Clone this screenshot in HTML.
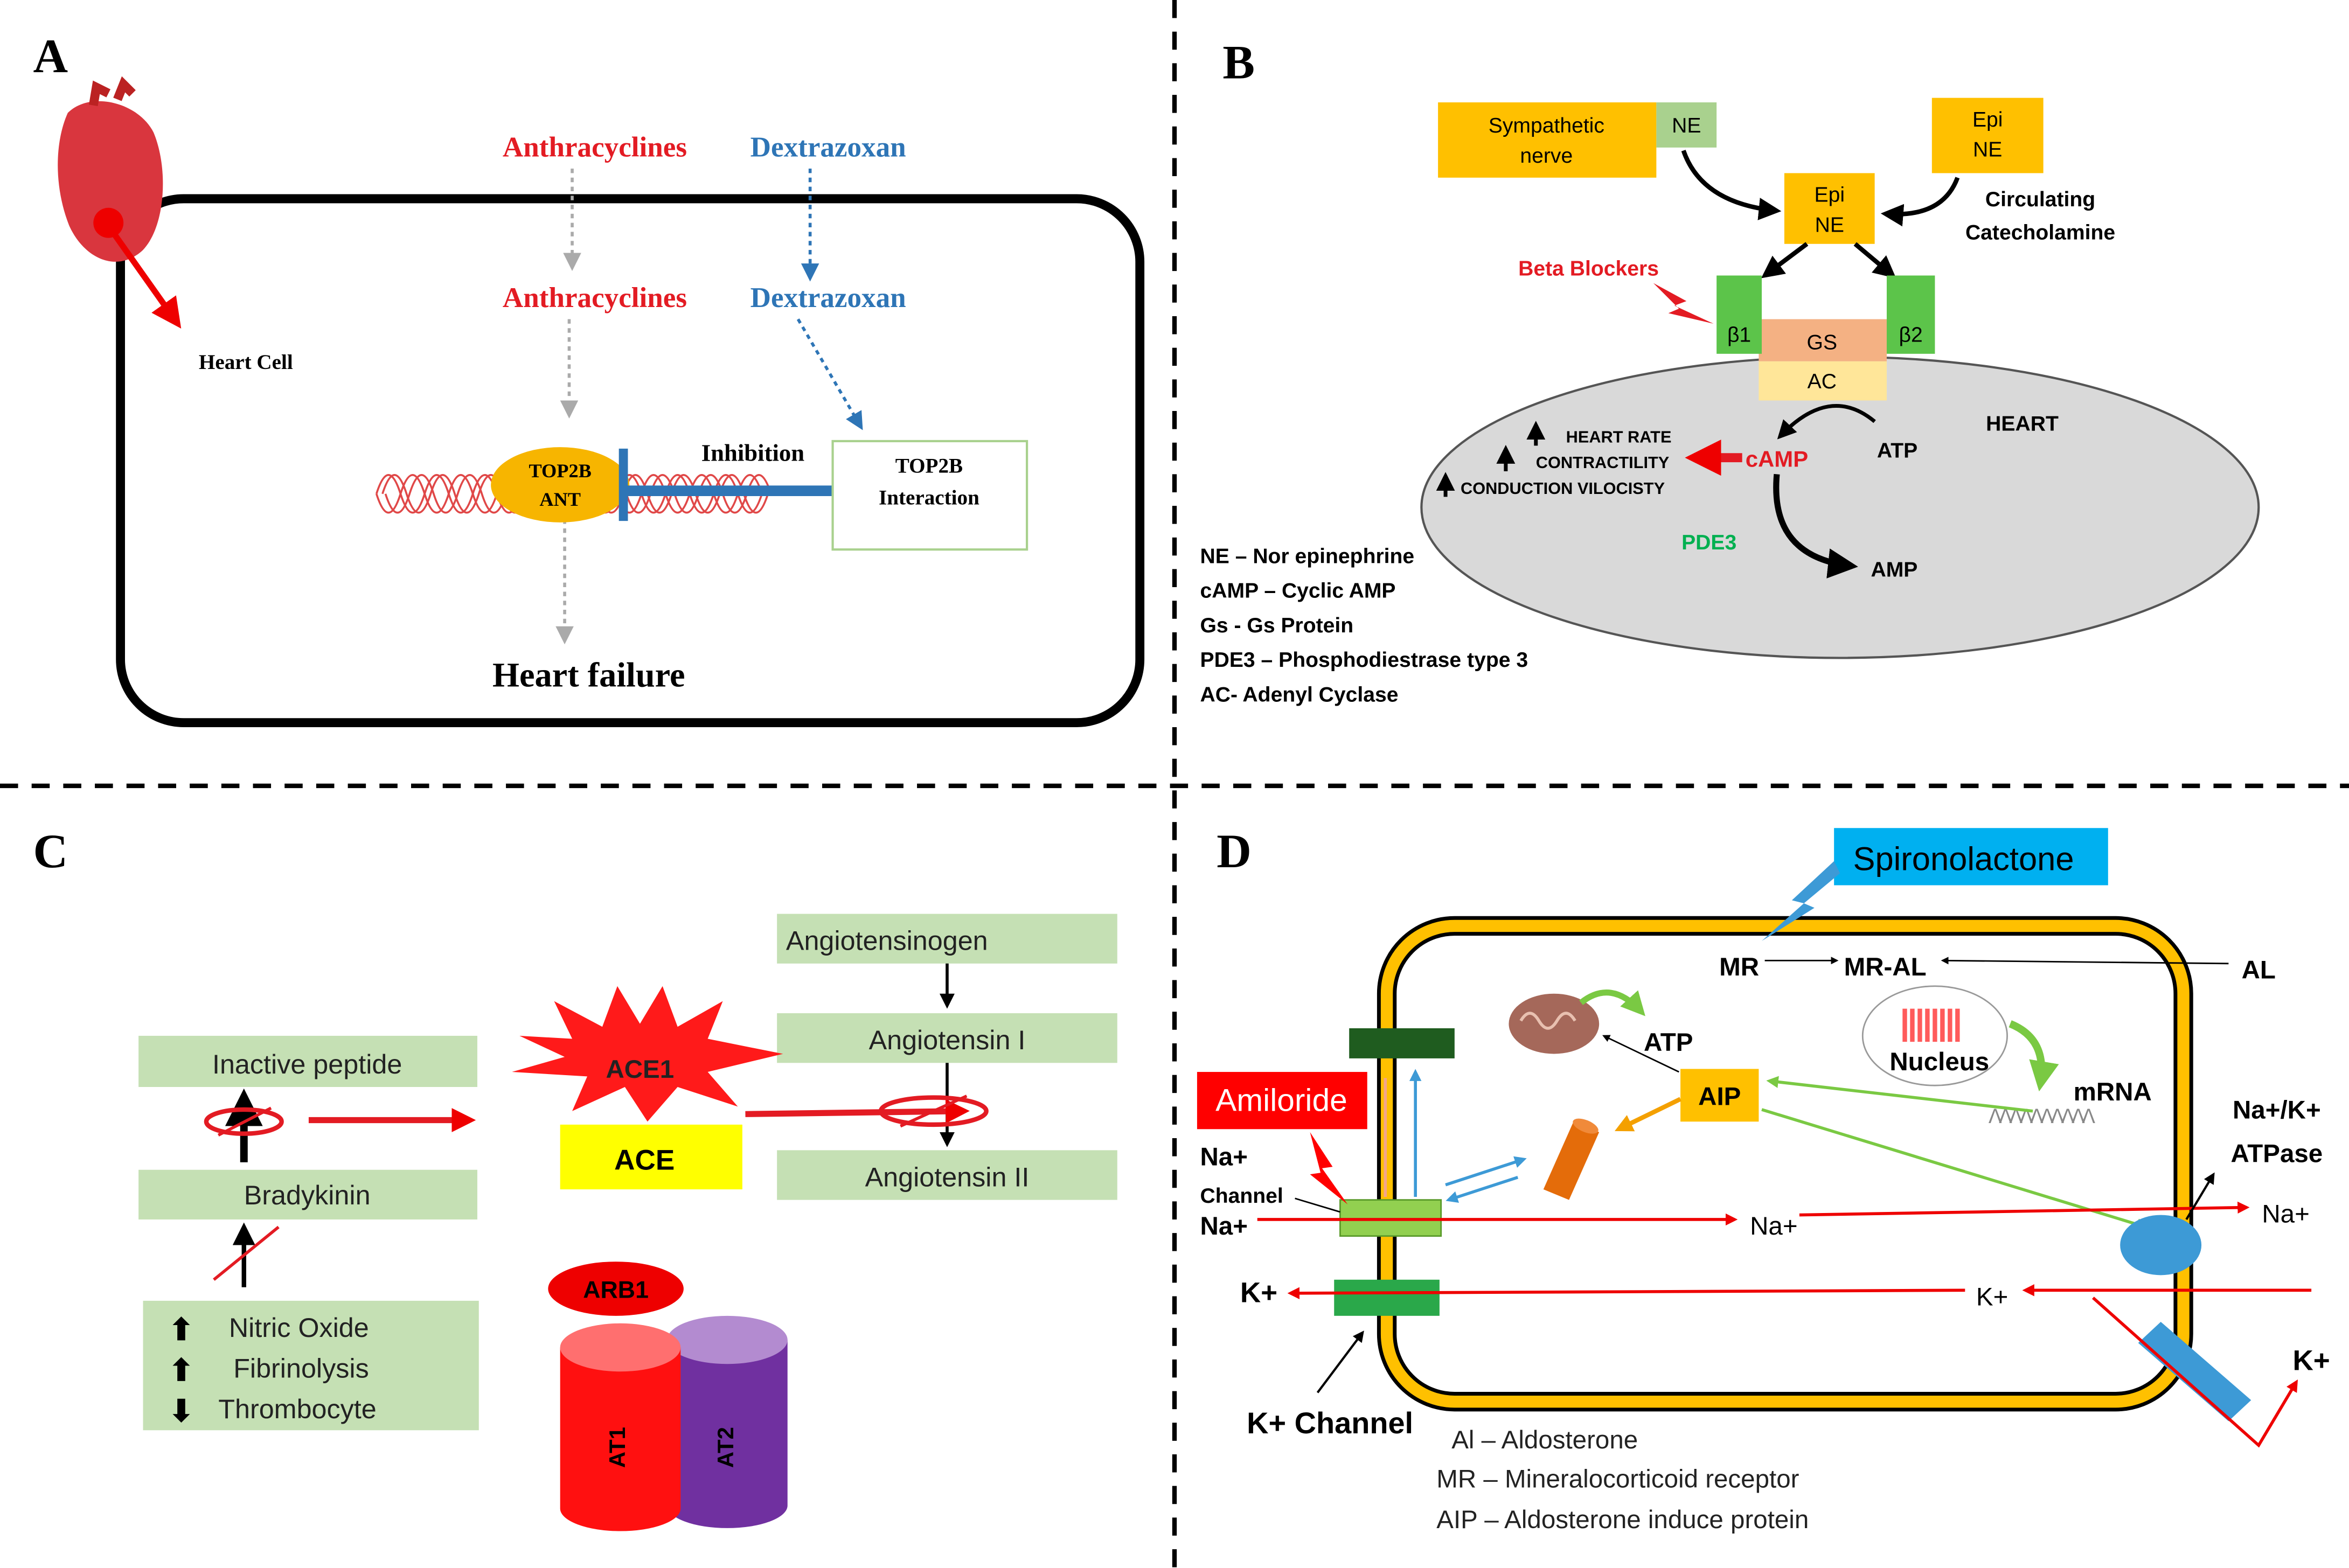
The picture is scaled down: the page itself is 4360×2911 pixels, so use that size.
<!DOCTYPE html>
<html><head><meta charset="utf-8"><style>html,body{margin:0;padding:0;background:#fff}svg{display:block}</style></head>
<body>
<svg width="4360" height="2911" viewBox="0 0 1560 1041.5" preserveAspectRatio="none" xmlns="http://www.w3.org/2000/svg" font-family="Liberation Sans, sans-serif">
<defs>
<marker id="ag" markerWidth="6" markerHeight="6" refX="5" refY="3" orient="auto"><path d="M0,0L6,3L0,6z" fill="#aaa"/></marker>
<marker id="ab" markerWidth="6" markerHeight="6" refX="5" refY="3" orient="auto"><path d="M0,0L6,3L0,6z" fill="#2e75b6"/></marker>
<marker id="ak" markerWidth="5" markerHeight="5" refX="4" refY="2.5" orient="auto"><path d="M0,0L5,2.5L0,5z" fill="#000"/></marker>
<marker id="ar" markerWidth="5" markerHeight="5" refX="4" refY="2.5" orient="auto"><path d="M0,0L5,2.5L0,5z" fill="#e00"/></marker>
<marker id="ar2" markerWidth="4" markerHeight="4" refX="3" refY="2" orient="auto"><path d="M0,0L4,2L0,4z" fill="#e00"/></marker>
<marker id="agr" markerWidth="4" markerHeight="4" refX="3" refY="2" orient="auto"><path d="M0,0L4,2L0,4z" fill="#7ac943"/></marker>
<marker id="abl" markerWidth="4" markerHeight="4" refX="3" refY="2" orient="auto"><path d="M0,0L4,2L0,4z" fill="#3d9ad6"/></marker>
<marker id="aor" markerWidth="4" markerHeight="4" refX="3" refY="2" orient="auto"><path d="M0,0L4,2L0,4z" fill="#f4a000"/></marker>
</defs>
<line x1="780" y1="0" x2="780" y2="1041" stroke="#000" stroke-width="3" stroke-dasharray="12,9"/>
<line x1="0" y1="522" x2="1560" y2="522" stroke="#000" stroke-width="3" stroke-dasharray="12,9"/>

<!-- PANEL A -->
<text x="22" y="48" font-family="Liberation Serif, serif" font-weight="bold" font-size="32">A</text>
<rect x="80" y="132" width="677" height="348" rx="42" fill="none" stroke="#000" stroke-width="6"/>
<path d="M45,75 C36,95 36,125 46,150 C56,172 78,182 95,166 C110,150 112,112 102,88 C92,68 60,60 45,75z" fill="#d9363e"/>
<path d="M62,70 l2,-12 l8,4 M78,66 l4,-10 l6,6" stroke="#b22" stroke-width="6" fill="none"/>
<circle cx="72" cy="148" r="10" fill="#e00"/>
<line x1="72" y1="150" x2="118" y2="215" stroke="#e00" stroke-width="4" marker-end="url(#ar)"/>
<text x="132" y="245" font-family="Liberation Serif, serif" font-weight="bold" font-size="14">Heart Cell</text>
<g font-family="Liberation Serif, serif" font-weight="bold" font-size="19" text-anchor="middle">
<text x="395" y="104" fill="#e31b23">Anthracyclines</text>
<text x="550" y="104" fill="#2e75b6">Dextrazoxan</text>
<text x="395" y="204" fill="#e31b23">Anthracyclines</text>
<text x="550" y="204" fill="#2e75b6">Dextrazoxan</text>
</g>
<g stroke-dasharray="3,3" stroke-width="2" fill="none">
<line x1="380" y1="112" x2="380" y2="178" stroke="#aaa" marker-end="url(#ag)"/>
<line x1="378" y1="212" x2="378" y2="276" stroke="#aaa" marker-end="url(#ag)"/>
<line x1="538" y1="112" x2="538" y2="185" stroke="#2e75b6" marker-end="url(#ab)"/>
<line x1="530" y1="212" x2="572" y2="284" stroke="#2e75b6" marker-end="url(#ab)"/>
<line x1="375" y1="345" x2="375" y2="426" stroke="#aaa" marker-end="url(#ag)"/>
</g>
<g fill="none" stroke="#e04848" stroke-width="1.3">
<path d="M250,328 q8,-25 16,0 t16,0 t16,0 t16,0 t16,0 t16,0 t16,0 t16,0 t16,0 t16,0 t16,0 t16,0 t16,0 t16,0 t16,0 t16,0"/>
<path d="M254,328 q8,-25 16,0 t16,0 t16,0 t16,0 t16,0 t16,0 t16,0 t16,0 t16,0 t16,0 t16,0 t16,0 t16,0 t16,0 t16,0 t16,0"/>
<path d="M250,328 q8,25 16,0 t16,0 t16,0 t16,0 t16,0 t16,0 t16,0 t16,0 t16,0 t16,0 t16,0 t16,0 t16,0 t16,0 t16,0 t16,0"/>
<path d="M256,328 q8,25 16,0 t16,0 t16,0 t16,0 t16,0 t16,0 t16,0 t16,0 t16,0 t16,0 t16,0 t16,0 t16,0 t16,0 t16,0 t16,0"/>
</g>
<ellipse cx="372" cy="322" rx="46" ry="25" fill="#f7b500"/>
<text x="372" y="317" text-anchor="middle" font-family="Liberation Serif, serif" font-weight="bold" font-size="13">TOP2B</text>
<text x="372" y="336" text-anchor="middle" font-family="Liberation Serif, serif" font-weight="bold" font-size="13">ANT</text>
<line x1="414" y1="326" x2="553" y2="326" stroke="#2e75b6" stroke-width="7"/>
<line x1="414" y1="298" x2="414" y2="346" stroke="#2e75b6" stroke-width="6"/>
<text x="500" y="306" text-anchor="middle" font-family="Liberation Serif, serif" font-weight="bold" font-size="16">Inhibition</text>
<rect x="553" y="293" width="129" height="72" fill="#fff" stroke="#a9d18e" stroke-width="1.5"/>
<text x="617" y="314" text-anchor="middle" font-family="Liberation Serif, serif" font-weight="bold" font-size="14">TOP2B</text>
<text x="617" y="335" text-anchor="middle" font-family="Liberation Serif, serif" font-weight="bold" font-size="14">Interaction</text>
<text x="391" y="456" text-anchor="middle" font-family="Liberation Serif, serif" font-weight="bold" font-size="23">Heart failure</text>

<!-- PANEL B -->
<text x="812" y="52" font-family="Liberation Serif, serif" font-weight="bold" font-size="32">B</text>
<ellipse cx="1222" cy="337" rx="278" ry="100" fill="#d9d9d9" stroke="#555" stroke-width="1.5"/>
<rect x="955" y="68" width="145" height="50" fill="#ffc000"/>
<text x="1027" y="88" text-anchor="middle" font-size="14">Sympathetic</text>
<text x="1027" y="108" text-anchor="middle" font-size="14">nerve</text>
<rect x="1100" y="68" width="40" height="30" fill="#a9d18e"/>
<text x="1120" y="88" text-anchor="middle" font-size="14">NE</text>
<rect x="1283" y="65" width="74" height="50" fill="#ffc000"/>
<text x="1320" y="84" text-anchor="middle" font-size="14">Epi</text>
<text x="1320" y="104" text-anchor="middle" font-size="14">NE</text>
<rect x="1185" y="115" width="60" height="47" fill="#ffc000"/>
<text x="1215" y="134" text-anchor="middle" font-size="14">Epi</text>
<text x="1215" y="154" text-anchor="middle" font-size="14">NE</text>
<g fill="none" stroke="#000" stroke-width="3">
<path d="M1118,100 Q1130,135 1180,140" marker-end="url(#ak)"/>
<path d="M1300,118 Q1290,145 1252,142" marker-end="url(#ak)"/>
<path d="M1200,162 L1172,183" marker-end="url(#ak)"/>
<path d="M1232,162 L1257,183" marker-end="url(#ak)"/>
</g>
<text x="1355" y="137" text-anchor="middle" font-size="14" font-weight="bold">Circulating</text>
<text x="1355" y="159" text-anchor="middle" font-size="14" font-weight="bold">Catecholamine</text>
<rect x="1168" y="212" width="85" height="28" fill="#f4b183"/>
<rect x="1168" y="240" width="85" height="26" fill="#ffe699"/>
<text x="1210" y="232" text-anchor="middle" font-size="14">GS</text>
<text x="1210" y="258" text-anchor="middle" font-size="14">AC</text>
<rect x="1140" y="183" width="30" height="52" fill="#5cc44a"/>
<rect x="1253" y="183" width="32" height="52" fill="#5cc44a"/>
<text x="1155" y="227" text-anchor="middle" font-size="14">β1</text>
<text x="1269" y="227" text-anchor="middle" font-size="14">β2</text>
<text x="1055" y="183" text-anchor="middle" font-size="14" font-weight="bold" fill="#e31b23">Beta Blockers</text>
<path d="M1098,188 L1120,200 L1112,203 L1138,215 L1108,208 L1115,205 z" fill="#e31b23"/>
<path d="M1245,280 Q1215,255 1182,290" fill="none" stroke="#000" stroke-width="2.5" marker-end="url(#ak)"/>
<text x="1343" y="286" text-anchor="middle" font-size="14" font-weight="bold">HEART</text>
<text x="1260" y="304" text-anchor="middle" font-size="14" font-weight="bold">ATP</text>
<text x="1180" y="310" text-anchor="middle" font-size="15" font-weight="bold" fill="#e31b23">cAMP</text>
<line x1="1157" y1="304" x2="1125" y2="304" stroke="#e31b23" stroke-width="6" marker-end="url(#ar2)"/>
<g font-size="11" font-weight="bold">
<text x="1040" y="294">HEART RATE</text>
<text x="1020" y="311">CONTRACTILITY</text>
<text x="970" y="328">CONDUCTION VILOCISTY</text>
</g>
<g stroke="#000" stroke-width="2.5" fill="none">
<line x1="1020" y1="296" x2="1020" y2="282" marker-end="url(#ak)"/>
<line x1="1000" y1="313" x2="1000" y2="298" marker-end="url(#ak)"/>
<line x1="960" y1="330" x2="960" y2="316" marker-end="url(#ak)"/>
</g>
<path d="M1180,315 Q1175,370 1230,376" fill="none" stroke="#000" stroke-width="4" marker-end="url(#ak)"/>
<text x="1135" y="365" text-anchor="middle" font-size="14" font-weight="bold" fill="#00b050">PDE3</text>
<text x="1258" y="383" text-anchor="middle" font-size="14" font-weight="bold">AMP</text>
<g font-size="14" font-weight="bold">
<text x="797" y="374">NE – Nor epinephrine</text>
<text x="797" y="397">cAMP – Cyclic AMP</text>
<text x="797" y="420">Gs -  Gs Protein</text>
<text x="797" y="443">PDE3 – Phosphodiestrase type 3</text>
<text x="797" y="466">AC- Adenyl Cyclase</text>
</g>

<!-- PANEL C -->
<text x="22" y="576" font-family="Liberation Serif, serif" font-weight="bold" font-size="32">C</text>
<g fill="#c5e0b4">
<rect x="516" y="607" width="226" height="33"/>
<rect x="516" y="673" width="226" height="33"/>
<rect x="516" y="764" width="226" height="33"/>
<rect x="92" y="688" width="225" height="34"/>
<rect x="92" y="777" width="225" height="33"/>
<rect x="95" y="864" width="223" height="86"/>
</g>
<g font-size="18" fill="#222">
<text x="522" y="631">Angiotensinogen</text>
<text x="629" y="697" text-anchor="middle">Angiotensin I</text>
<text x="629" y="788" text-anchor="middle">Angiotensin II</text>
<text x="204" y="713" text-anchor="middle">Inactive peptide</text>
<text x="204" y="800" text-anchor="middle">Bradykinin</text>
<text x="152" y="888">Nitric Oxide</text>
<text x="155" y="915">Fibrinolysis</text>
<text x="145" y="942">Thrombocyte</text>
</g>
<g font-size="20" font-weight="bold"><text x="112" y="890">⬆</text><text x="112" y="917">⬆</text><text x="112" y="944">⬇</text></g>
<line x1="629" y1="640" x2="629" y2="668" stroke="#000" stroke-width="2" marker-end="url(#ak)"/>
<line x1="629" y1="706" x2="629" y2="760" stroke="#000" stroke-width="2" marker-end="url(#ak)"/>
<line x1="162" y1="772" x2="162" y2="728" stroke="#000" stroke-width="5" marker-end="url(#ak)"/>
<line x1="162" y1="855" x2="162" y2="815" stroke="#000" stroke-width="3" marker-end="url(#ak)"/>
<line x1="142" y1="850" x2="185" y2="815" stroke="#e31b23" stroke-width="2"/>
<ellipse cx="162" cy="745" rx="25" ry="8" fill="none" stroke="#e31b23" stroke-width="3"/>
<line x1="145" y1="754" x2="180" y2="736" stroke="#e31b23" stroke-width="2"/>
<line x1="205" y1="744" x2="312" y2="744" stroke="#e31b23" stroke-width="4" marker-end="url(#ar2)"/>
<rect x="372" y="747" width="121" height="43" fill="#ffff00"/>
<text x="428" y="777" text-anchor="middle" font-size="19" font-weight="bold">ACE</text>
<path d="M345,688 L380,690 L368,665 L400,682 L410,655 L425,680 L440,655 L450,682 L480,665 L470,690 L520,700 L470,712 L490,735 L450,722 L430,745 L415,722 L380,738 L390,715 L340,712 L375,702z" fill="#ff1a1a"/>
<text x="425" y="716" text-anchor="middle" font-size="17" font-weight="bold" fill="#222">ACE1</text>
<line x1="495" y1="740" x2="640" y2="738" stroke="#e31b23" stroke-width="4" marker-end="url(#ar2)"/>
<ellipse cx="620" cy="738" rx="35" ry="9" fill="none" stroke="#e31b23" stroke-width="3"/>
<line x1="598" y1="748" x2="642" y2="728" stroke="#e31b23" stroke-width="2"/>
<ellipse cx="409" cy="856" rx="45" ry="18" fill="#e00"/>
<text x="409" y="862" text-anchor="middle" font-size="16" font-weight="bold">ARB1</text>
<path d="M443,890 L443,1000 A40,15 0 0 0 523,1000 L523,890z" fill="#7030a0"/>
<ellipse cx="483" cy="890" rx="40" ry="16" fill="#b38bd0"/>
<path d="M372,895 L372,1002 A40,15 0 0 0 452,1002 L452,895z" fill="#ff1010"/>
<ellipse cx="412" cy="895" rx="40" ry="16" fill="#ff6f6f"/>
<text transform="translate(415,975) rotate(-90)" font-size="15" font-weight="bold">AT1</text>
<text transform="translate(487,975) rotate(-90)" font-size="15" font-weight="bold">AT2</text>

<!-- PANEL D -->
<text x="808" y="576" font-family="Liberation Serif, serif" font-weight="bold" font-size="32">D</text>
<rect x="921" y="615" width="529" height="316" rx="45" fill="none" stroke="#000" stroke-width="13"/>
<rect x="921" y="615" width="529" height="316" rx="45" fill="none" stroke="#ffc000" stroke-width="8"/>
<rect x="1218" y="550" width="182" height="38" fill="#00b0f0"/>
<text x="1304" y="578" text-anchor="middle" font-size="22">Spironolactone</text>
<path d="M1218,572 L1190,598 L1198,600 L1170,625 L1205,603 L1198,600 L1222,580z" fill="#3d9ad6"/>
<text x="1155" y="648" text-anchor="middle" font-size="17" font-weight="bold">MR</text>
<text x="1252" y="648" text-anchor="middle" font-size="17" font-weight="bold">MR-AL</text>
<text x="1500" y="650" text-anchor="middle" font-size="17" font-weight="bold">AL</text>
<line x1="1172" y1="638" x2="1220" y2="638" stroke="#000" stroke-width="1" marker-end="url(#ak)"/>
<line x1="1480" y1="640" x2="1290" y2="638" stroke="#000" stroke-width="1" marker-end="url(#ak)"/>
<ellipse cx="1032" cy="680" rx="30" ry="20" fill="#a5685a"/>
<path d="M1010,678 q6,-10 12,0 t12,0 t12,0" fill="none" stroke="#e8c0b0" stroke-width="2"/>
<path d="M1050,666 Q1070,650 1090,672" fill="none" stroke="#7ac943" stroke-width="4" marker-end="url(#agr)"/>
<text x="1108" y="698" text-anchor="middle" font-size="17" font-weight="bold">ATP</text>
<line x1="1115" y1="712" x2="1065" y2="688" stroke="#000" stroke-width="1" marker-end="url(#ak)"/>
<ellipse cx="1285" cy="688" rx="48" ry="33" fill="#fff" stroke="#999"/>
<path d="M1265,670 l0,22 M1270,670 l0,22 M1275,670 l0,22 M1280,670 l0,22 M1285,670 l0,22 M1290,670 l0,22 M1295,670 l0,22 M1300,670 l0,22" stroke="#ff5b5b" stroke-width="3"/>
<text x="1288" y="711" text-anchor="middle" font-size="17" font-weight="bold">Nucleus</text>
<path d="M1335,680 Q1360,690 1355,720" fill="none" stroke="#7ac943" stroke-width="5" marker-end="url(#agr)"/>
<text x="1403" y="731" text-anchor="middle" font-size="17" font-weight="bold">mRNA</text>
<text x="1355" y="746" text-anchor="middle" font-size="13" fill="#888" letter-spacing="-2">ᐱᐱᐱᐱᐱᐱᐱᐱᐱᐱ</text>
<rect x="1116" y="710" width="52" height="35" fill="#ffc000"/>
<text x="1142" y="734" text-anchor="middle" font-size="17" font-weight="bold">AIP</text>
<line x1="1350" y1="738" x2="1175" y2="718" stroke="#7ac943" stroke-width="2" marker-end="url(#agr)"/>
<line x1="1170" y1="737" x2="1425" y2="815" stroke="#7ac943" stroke-width="2" marker-end="url(#agr)"/>
<line x1="1116" y1="730" x2="1075" y2="750" stroke="#f4a000" stroke-width="3" marker-end="url(#aor)"/>
<path d="M1025,790 L1045,745 L1062,752 L1042,797z" fill="#e46c0a"/>
<ellipse cx="1053" cy="748" rx="9" ry="4" fill="#f08a3a" transform="rotate(22 1053 748)"/>
<rect x="896" y="683" width="70" height="20" fill="#1f5c1f"/>
<rect x="890" y="797" width="67" height="24" fill="#92d050" stroke="#5a9a2a"/>
<rect x="886" y="850" width="70" height="24" fill="#2aa84a"/>
<line x1="940" y1="795" x2="940" y2="712" stroke="#3d9ad6" stroke-width="2" marker-end="url(#abl)"/>
<line x1="920" y1="716" x2="920" y2="795" stroke="#f4a58a" stroke-width="2"/>
<line x1="960" y1="787" x2="1012" y2="770" stroke="#3d9ad6" stroke-width="2" marker-end="url(#abl)"/>
<line x1="1008" y1="782" x2="962" y2="797" stroke="#3d9ad6" stroke-width="2" marker-end="url(#abl)"/>
<rect x="795" y="712" width="113" height="38" fill="#ff0000"/>
<text x="851" y="738" text-anchor="middle" font-size="21" fill="#fff">Amiloride</text>
<path d="M870,752 L885,775 L878,776 L895,800 L870,780 L877,779z" fill="#ff0000"/>
<text x="797" y="774" font-size="17" font-weight="bold">Na+</text>
<text x="797" y="799" font-size="14" font-weight="bold">Channel</text>
<text x="797" y="820" font-size="17" font-weight="bold">Na+</text>
<line x1="860" y1="796" x2="890" y2="805" stroke="#000" stroke-width="1"/>
<line x1="835" y1="810" x2="1152" y2="810" stroke="#e00" stroke-width="2" marker-end="url(#ar2)"/>
<text x="1178" y="820" text-anchor="middle" font-size="17">Na+</text>
<line x1="1195" y1="807" x2="1492" y2="802" stroke="#e00" stroke-width="2" marker-end="url(#ar2)"/>
<text x="1518" y="812" text-anchor="middle" font-size="17">Na+</text>
<ellipse cx="1435" cy="827" rx="27" ry="20" fill="#3d9ad6"/>
<line x1="1452" y1="810" x2="1470" y2="780" stroke="#000" stroke-width="1.5" marker-end="url(#ak)"/>
<text x="1512" y="743" text-anchor="middle" font-size="17" font-weight="bold">Na+/K+</text>
<text x="1512" y="772" text-anchor="middle" font-size="17" font-weight="bold">ATPase</text>
<text x="836" y="865" text-anchor="middle" font-size="19" font-weight="bold">K+</text>
<line x1="1535" y1="857" x2="1345" y2="857" stroke="#e00" stroke-width="2" marker-end="url(#ar2)"/>
<text x="1323" y="867" text-anchor="middle" font-size="17">K+</text>
<line x1="1305" y1="857" x2="857" y2="859" stroke="#e00" stroke-width="2" marker-end="url(#ar2)"/>
<path d="M1420,892 L1435,878 L1495,930 L1480,944z" fill="#3d9ad6"/>
<path d="M1390,862 L1500,960 L1525,918" fill="none" stroke="#e00" stroke-width="2" marker-end="url(#ar2)"/>
<text x="1535" y="910" text-anchor="middle" font-size="19" font-weight="bold">K+</text>
<line x1="875" y1="925" x2="905" y2="885" stroke="#000" stroke-width="1.5" marker-end="url(#ak)"/>
<text x="828" y="952" font-size="20" font-weight="bold">K+ Channel</text>
<g font-size="17" fill="#222">
<text x="964" y="962">Al – Aldosterone</text>
<text x="954" y="988">MR – Mineralocorticoid receptor</text>
<text x="954" y="1015">AIP – Aldosterone induce protein</text>
</g>
</svg>
</body></html>
